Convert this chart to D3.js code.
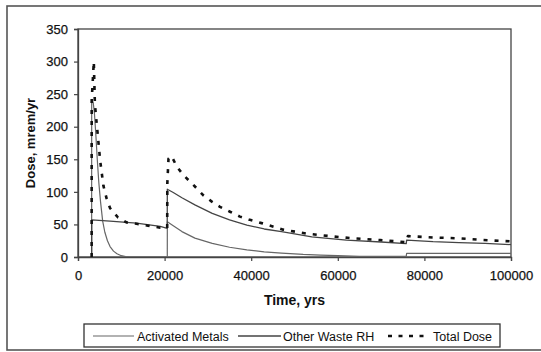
<!DOCTYPE html>
<html>
<head>
<meta charset="utf-8">
<script src="https://cdn.jsdelivr.net/npm/d3@7"></script>
<style>
  html, body { margin: 0; padding: 0; background: #fff; }
  svg { display: block; font-family: "Liberation Sans", Arial, sans-serif; }
</style>
</head>
<body>
<svg id="chart" width="541" height="352"></svg>
<script>
// ---- data ----
const xTicks = [0, 20000, 40000, 60000, 80000, 100000];
const yTicks = [0, 50, 100, 150, 200, 250, 300, 350];
const seriesNames = ["Activated Metals", "Other Waste RH", "Total Dose"];

const activatedTime = [3150, 3160, 3500, 3800, 4100, 4450, 4800, 5200, 5700, 6200, 6800, 7400, 8200, 9000, 10000, 11000, 12000, 20620, 20630, 22000, 24000, 27000, 31000, 35000, 39000, 43000, 47000, 52000, 56000, 60000, 65000, 75800, 75900, 100000];
const activatedDose = [0, 240, 238, 220, 190, 150, 115, 85, 55, 38, 25, 16, 9, 5, 2, 0.5, 0, 0, 54, 48, 39, 29, 21, 15, 11, 8, 6, 4, 3, 2, 1, 1, 5.7, 5.5];

const otherTime = [3150, 3160, 7400, 13500, 19000, 20600, 20630, 22000, 24000, 27000, 31000, 35000, 39000, 43000, 47000, 54000, 62000, 70000, 75800, 75900, 82000, 88000, 94000, 100000];
const otherDose = [0, 57, 55, 52, 47, 44, 104, 99, 91, 80, 67, 57, 49, 43, 39, 31, 26, 23, 20.5, 26, 23.5, 22, 21, 19];

const totalTime = [3150, 3160, 3650, 3900, 4300, 4850, 5100, 5850, 6600, 7400, 9200, 11200, 13500, 16200, 19000, 20600, 20630, 20900, 21600, 22800, 24300, 26600, 28900, 30900, 32800, 35100, 37400, 39700, 42400, 47400, 52800, 58200, 63600, 69800, 74400, 75800, 76200, 82000, 88200, 93600, 100000];
const totalDose = [0, 240, 300, 235, 206, 167, 149, 110, 90, 75, 61, 53, 51, 48, 45, 44, 113, 151, 155, 139, 126, 111, 95, 85, 77, 69.5, 62, 57, 52, 42, 36, 32, 28.6, 26, 23.5, 22.5, 32, 30, 28.6, 26, 24];

// ---- layout ----
const svg = d3.select("#chart");
const plot = { left: 78, top: 29, right: 511, bottom: 257 };

const x = d3.scaleLinear().domain([0, 100000]).range([plot.left, plot.right]);
const y = d3.scaleLinear().domain([0, 350]).range([plot.bottom, plot.top]);

// outer frame
svg.append("rect")
  .attr("x", 7).attr("y", 6).attr("width", 540).attr("height", 344)
  .attr("fill", "#fff").attr("stroke", "#555").attr("stroke-width", 1.6);

// plot area border
svg.append("rect")
  .attr("x", plot.left).attr("y", plot.top)
  .attr("width", plot.right - plot.left).attr("height", plot.bottom - plot.top)
  .attr("fill", "#fff").attr("stroke", "#444").attr("stroke-width", 1.3);

// axes
const xAxis = svg.append("g")
  .attr("transform", `translate(0,${plot.bottom})`)
  .call(d3.axisBottom(x).tickValues(xTicks).tickFormat(d3.format("d")).tickSize(4).tickPadding(10));
const yAxis = svg.append("g")
  .attr("transform", `translate(${plot.left},0)`)
  .call(d3.axisLeft(y).tickValues(yTicks).tickSize(4).tickPadding(6));

[xAxis, yAxis].forEach(g => {
  g.select(".domain").attr("stroke", "#444").attr("stroke-width", 1.3);
  g.selectAll(".tick line").attr("stroke", "#444").attr("stroke-width", 1.2);
  g.selectAll(".tick text")
    .attr("fill", "#111")
    .attr("stroke", "#111").attr("stroke-width", 0.25)
    .style("font-size", "13px")
    .style("font-family", "'Liberation Sans', Arial, sans-serif");
});

// axis titles
svg.append("text")
  .attr("x", (plot.left + plot.right) / 2).attr("y", 305)
  .attr("text-anchor", "middle")
  .style("font-size", "14px").style("font-weight", "bold").attr("fill", "#111")
  .text("Time, yrs");

svg.append("text")
  .attr("transform", `translate(35,${(plot.top + plot.bottom) / 2}) rotate(-90)`)
  .attr("text-anchor", "middle")
  .style("font-size", "13px").style("font-weight", "bold").attr("fill", "#111")
  .text("Dose, mrem/yr");

// series
const line = d3.line().x(d => x(d[0])).y(d => y(d[1]));
const zip = (t, v) => t.map((ti, i) => [ti, v[i]]);

const styles = [
  { data: zip(activatedTime, activatedDose), stroke: "#666", width: 1.2, dash: null },
  { data: zip(otherTime, otherDose), stroke: "#444", width: 1.3, dash: null },
  { data: zip(totalTime, totalDose), stroke: "#111", width: 2.6, dash: "4,7" }
];

svg.append("clipPath").attr("id", "plotclip").append("rect")
  .attr("x", plot.left).attr("y", plot.top - 2)
  .attr("width", plot.right - plot.left).attr("height", plot.bottom - plot.top + 2);

const seriesG = svg.append("g").attr("clip-path", "url(#plotclip)");
styles.forEach(s => {
  seriesG.append("path")
    .attr("d", line(s.data))
    .attr("fill", "none")
    .attr("stroke", s.stroke)
    .attr("stroke-width", s.width)
    .attr("stroke-dasharray", s.dash)
    .attr("stroke-linejoin", "round");
});

// legend
const legend = svg.append("g");
legend.append("rect")
  .attr("x", 84).attr("y", 324).attr("width", 416).attr("height", 23)
  .attr("fill", "#fff").attr("stroke", "#333").attr("stroke-width", 1.3);

const legendItems = [
  { name: seriesNames[0], x0: 93, x1: 134, tx: 137, s: styles[0] },
  { name: seriesNames[1], x0: 238, x1: 281, tx: 283, s: styles[1] },
  { name: seriesNames[2], x0: 388, x1: 430, tx: 433, s: styles[2] }
];
legendItems.forEach(it => {
  legend.append("line")
    .attr("x1", it.x0).attr("x2", it.x1).attr("y1", 336).attr("y2", 336)
    .attr("stroke", it.s.stroke).attr("stroke-width", it.s.width)
    .attr("stroke-dasharray", it.s.dash ? "4,6.5" : null);
  legend.append("text")
    .attr("x", it.tx).attr("y", 340.5)
    .style("font-size", "12.5px").attr("fill", "#111")
    .text(it.name);
});
</script>
</body>
</html>
